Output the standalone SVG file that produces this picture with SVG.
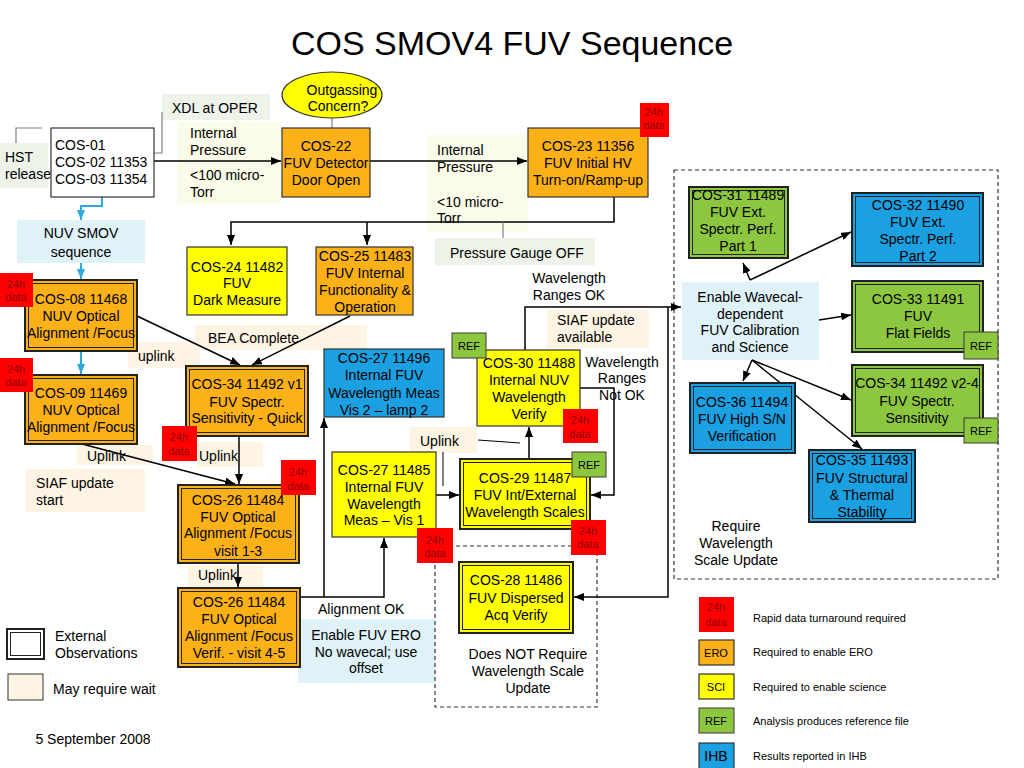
<svg xmlns="http://www.w3.org/2000/svg" width="1024" height="768" viewBox="0 0 1024 768">
<defs>
<marker id="ah" viewBox="0 0 10 8" refX="10" refY="4" markerWidth="10" markerHeight="8" markerUnits="userSpaceOnUse" orient="auto"><path d="M0,0 L10,4 L0,8 z" fill="#000"/></marker>
<marker id="ahb" viewBox="0 0 10 8" refX="10" refY="4" markerWidth="10" markerHeight="8" markerUnits="userSpaceOnUse" orient="auto"><path d="M0,0 L10,4 L0,8 z" fill="#29abe2"/></marker>
<style>
text{font-family:"Liberation Sans",Arial,Helvetica,sans-serif;font-size:14px;fill:#000}
.c{text-anchor:middle}
.title{font-size:34px}
.sm{font-size:11px}
.d{font-size:11px;fill:#8b0000;text-anchor:middle}
.ln{stroke:#000;stroke-width:1.5;fill:none}
.ar{marker-end:url(#ah)}
.gl{stroke:#808080;stroke-width:1.2;fill:none}
.bl{stroke:#29abe2;stroke-width:2;fill:none;marker-end:url(#ahb)}
.dash{stroke:#333;stroke-width:1.2;fill:none;stroke-dasharray:4,3}
.or{fill:#fbb117;stroke:#333;stroke-width:1.2}
.ye{fill:#ffff00;stroke:#333;stroke-width:1.2}
.gr{fill:#8dc63f;stroke:#333;stroke-width:1.2}
.bu{fill:#1ba1e2;stroke:#333;stroke-width:1.2}
.wh{fill:#fff;stroke:#333;stroke-width:1.2}
.out{stroke:#222;stroke-width:2}
.inn{fill:none;stroke:#222;stroke-width:1}
.red{fill:#ff0000}
.ref{fill:#8dc63f;stroke:#3a3a3a;stroke-width:1}
.bg-be{fill:#fdf4e4}
.bg-ye{fill:#fbfbe9}
.bg-gg{fill:#eef3ea}
.bg-lb{fill:#dff2f8}
</style>
</defs>
<rect width="1024" height="768" fill="#fff"/>
<text class="title c" x="512" y="55">COS SMOV4 FUV Sequence</text>

<!-- label backgrounds -->
<g id="labels">
<rect class="bg-gg" x="0" y="143" width="48" height="45"/>
<rect class="bg-gg" x="162" y="94" width="108" height="26"/>
<rect class="bg-ye" x="177" y="122" width="104" height="83"/>
<rect class="bg-ye" x="427" y="135" width="101" height="97"/>
<rect class="bg-gg" x="435" y="238" width="160" height="27"/>
<rect class="bg-lb" x="17" y="220" width="128" height="43"/>
<rect class="bg-be" x="195" y="325" width="172" height="25"/>
<rect class="bg-be" x="128" y="342" width="72" height="26"/>
<rect class="bg-be" x="77" y="445" width="76" height="20"/>
<rect class="bg-be" x="26" y="469" width="119" height="43"/>
<rect class="bg-be" x="197" y="442" width="66" height="25"/>
<rect class="bg-be" x="188" y="565" width="75" height="22"/>
<rect class="bg-lb" x="298" y="619" width="137" height="64"/>
<rect class="bg-be" x="410" y="427" width="67" height="26"/>
<rect class="bg-be" x="547" y="310" width="102" height="38"/>
<rect class="bg-lb" x="682" y="282" width="137" height="78"/>
<text x="5" y="162">HST</text><text x="5" y="179">release</text>
<text x="172" y="113">XDL at OPER</text>
<text x="190" y="138">Internal</text><text x="190" y="155">Pressure</text><text x="190" y="180">&lt;100 micro-</text><text x="190" y="197">Torr</text>
<text x="437" y="155">Internal</text><text x="437" y="172">Pressure</text><text x="437" y="207">&lt;10 micro-</text><text x="437" y="223">Torr</text>
<text x="450" y="258">Pressure Gauge OFF</text>
<text class="c" x="81" y="238">NUV SMOV</text><text class="c" x="81" y="257">sequence</text>
<text x="208" y="343">BEA Complete</text>
<text x="138" y="361">uplink</text>
<text x="87" y="461">Uplink</text>
<text x="36" y="488">SIAF update</text><text x="36" y="505">start</text>
<text x="199" y="461">Uplink</text>
<text x="198" y="580">Uplink</text>
<text x="318" y="614">Alignment OK</text>
<text class="c" x="366" y="640">Enable FUV ERO</text><text class="c" x="366" y="657">No wavecal; use</text><text class="c" x="366" y="673">offset</text>
<text x="420" y="446">Uplink</text>
<text x="557" y="325">SIAF update</text><text x="557" y="342">available</text>
<text class="c" x="569" y="283">Wavelength</text><text class="c" x="569" y="300">Ranges OK</text>
<text class="c" x="622" y="367">Wavelength</text><text class="c" x="622" y="383">Ranges</text><text class="c" x="622" y="400">Not OK</text>
<text class="c" x="750" y="302">Enable Wavecal-</text><text class="c" x="750" y="319">dependent</text><text class="c" x="750" y="335">FUV Calibration</text><text class="c" x="750" y="352">and Science</text>
<text class="c" x="736" y="531">Require</text><text class="c" x="736" y="548">Wavelength</text><text class="c" x="736" y="565">Scale Update</text>
<text class="c" x="528" y="659">Does NOT Require</text><text class="c" x="528" y="676">Wavelength Scale</text><text class="c" x="528" y="693">Update</text>
</g>

<g id="groups">
<rect class="dash" x="674" y="170" width="324" height="409"/>
<rect class="dash" x="435" y="546" width="162" height="161"/>
</g>

<g id="connectors">
<path class="ln ar" d="M154,161 H281"/>
<path class="ln ar" d="M370,161 H527"/>
<path class="ln ar" d="M614,197 V222 H231 V245"/>
<path class="ln ar" d="M367,222 V245"/>
<path class="gl" d="M332,117 V128"/>
<path class="gl" d="M16,143 V128 H42"/>
<path class="gl" d="M120,153 H162 V112"/>
<path class="gl" d="M503,222 V238"/>
<path class="bl" d="M102,197 V206 H81 V220"/>
<path class="bl" d="M81,263 V279"/>
<path class="bl" d="M81,351 V374"/>
<path class="ln ar" d="M137,316 L240,365"/>
<path class="ln ar" d="M350,316 L252,365"/>
<path class="ln ar" d="M82,444 L235,484"/>
<path class="ln ar" d="M239,436 V484"/>
<path class="ln ar" d="M238,563 V587"/>
<path class="ln ar" d="M300,597 H384 V538"/>
<path class="ln ar" d="M324,597 V418"/>
<path class="ln ar" d="M436,495 H459"/>
<path class="ln ar" d="M529,459 V427"/>
<path class="ln ar" d="M525,350 V307 H681"/>
<path class="ln ar" d="M668,307 V597 H574"/>
<path class="ln ar" d="M580,388 H614 V495 H591"/>
<path class="ln" style="stroke-width:1" d="M478,440 L520,443 M443,452 V486"/>
<path class="ln ar" d="M750,280 L743,263"/>
<path class="ln ar" d="M750,280 L851,232"/>
<path class="ln ar" d="M819,320 L851,315"/>
<path class="ln ar" d="M752,360 L743,381"/>
<path class="ln ar" d="M752,360 L851,400"/>
<path class="ln ar" d="M752,360 L862,449"/>
</g>

<g id="outgassing"><ellipse cx="332" cy="95" rx="50" ry="23" class="ye"/><text class="c" x="342" y="95">Outgassing</text><text class="c" x="338" y="111">Concern?</text></g>
<g id="cos01"><rect class="wh" x="51" y="128" width="103" height="69"/><text x="55" y="150">COS-01</text><text x="55" y="167">COS-02 11353</text><text x="55" y="184">COS-03 11354</text></g>
<g id="cos22"><rect class="or" x="282" y="128" width="88" height="69"/><text class="c" x="326" y="151">COS-22</text><text class="c" x="326" y="168">FUV Detector</text><text class="c" x="326" y="185">Door Open</text></g>
<g id="cos23"><rect class="or" x="528" y="128" width="120" height="69"/><text class="c" x="588" y="151">COS-23 11356</text><text class="c" x="588" y="168">FUV Initial HV</text><text class="c" x="588" y="185">Turn-on/Ramp-up</text>
<rect class="red" x="640" y="103" width="29" height="34"/><text class="d" x="654" y="116">24h</text><text class="d" x="654" y="129">data</text></g>
<g id="cos24"><rect class="ye" x="187" y="247" width="100" height="68"/><text class="c" x="237" y="272">COS-24 11482</text><text class="c" x="237" y="288">FUV</text><text class="c" x="237" y="305">Dark Measure</text></g>
<g id="cos25"><rect class="or" x="316" y="247" width="97" height="68"/><text class="c" x="365" y="261">COS-25 11483</text><text class="c" x="365" y="278">FUV Internal</text><text class="c" x="365" y="295">Functionality &amp;</text><text class="c" x="365" y="312">Operation</text></g>

<g id="cos08"><rect class="or out" x="25" y="280" width="112" height="71"/><rect class="inn" x="28.5" y="283.5" width="105" height="64"/><text class="c" x="81" y="304">COS-08 11468</text><text class="c" x="81" y="321">NUV Optical</text><text class="c" x="81" y="338">Alignment /Focus</text>
<rect class="red" x="0" y="273" width="33" height="34"/><text class="d" x="16" y="288">24h</text><text class="d" x="16" y="301">data</text></g>
<g id="cos09"><rect class="or out" x="25" y="375" width="112" height="69"/><rect class="inn" x="28.5" y="378.5" width="105" height="62"/><text class="c" x="81" y="398">COS-09 11469</text><text class="c" x="81" y="415">NUV Optical</text><text class="c" x="81" y="432">Alignment /Focus</text>
<rect class="red" x="0" y="358" width="33" height="34"/><text class="d" x="16" y="373">24h</text><text class="d" x="16" y="386">data</text></g>
<g id="cos34v1"><rect class="or out" x="186" y="366" width="122" height="70"/><rect class="inn" x="189.5" y="369.5" width="115" height="63"/><text class="c" x="247" y="389">COS-34 11492 v1</text><text class="c" x="247" y="407">FUV  Spectr.</text><text class="c" x="247" y="423">Sensitivity - Quick</text>
<rect class="red" x="162" y="426" width="35" height="35"/><text class="d" x="179" y="441">24h</text><text class="d" x="179" y="455">data</text></g>
<g id="cos26a"><rect class="or out" x="178" y="485" width="121" height="78"/><rect class="inn" x="181.5" y="488.5" width="114" height="71"/><text class="c" x="238" y="505">COS-26 11484</text><text class="c" x="238" y="522">FUV Optical</text><text class="c" x="238" y="538">Alignment /Focus</text><text class="c" x="238" y="556">visit 1-3</text>
<rect class="red" x="281" y="460" width="35" height="35"/><text class="d" x="298" y="476">24h</text><text class="d" x="298" y="490">data</text></g>
<g id="cos26b"><rect class="or out" x="178" y="588" width="122" height="79"/><rect class="inn" x="181.5" y="591.5" width="115" height="72"/><text class="c" x="239" y="607">COS-26 11484</text><text class="c" x="239" y="624">FUV Optical</text><text class="c" x="239" y="641">Alignment /Focus</text><text class="c" x="239" y="658">Verif. - visit 4-5</text></g>

<g id="cos27b"><rect class="bu" x="324" y="349" width="120" height="68"/><text class="c" x="384" y="363">COS-27 11496</text><text class="c" x="384" y="380">Internal FUV</text><text class="c" x="384" y="398">Wavelength Meas</text><text class="c" x="384" y="415">Vis 2 – lamp 2</text></g>
<g id="cos27a"><rect class="ye" x="332" y="452" width="104" height="85"/><text class="c" x="384" y="475">COS-27 11485</text><text class="c" x="384" y="492">Internal FUV</text><text class="c" x="384" y="509">Wavelength</text><text class="c" x="384" y="525">Meas – Vis 1</text>
<rect class="red" x="417" y="528" width="36" height="35"/><text class="d" x="435" y="544">24h</text><text class="d" x="435" y="557">data</text></g>
<g id="cos30"><rect class="ye" x="477" y="350" width="103" height="76"/><text class="c" x="529" y="368">COS-30 11488</text><text class="c" x="529" y="385">Internal NUV</text><text class="c" x="529" y="402">Wavelength</text><text class="c" x="529" y="419">Verify</text>
<rect class="ref" x="452" y="333" width="34" height="25"/><text class="sm c" x="469" y="350">REF</text>
<rect class="red" x="563" y="409" width="35" height="34"/><text class="d" x="580" y="424">24h</text><text class="d" x="580" y="438">data</text></g>
<g id="cos29"><rect class="ye out" x="460" y="459" width="130" height="70"/><rect class="inn" x="463.5" y="462.5" width="123" height="63"/><text class="c" x="525" y="483">COS-29 11487</text><text class="c" x="525" y="500">FUV Int/External</text><text class="c" x="525" y="517">Wavelength Scales</text>
<rect class="ref" x="572" y="452" width="34" height="25"/><text class="sm c" x="589" y="469">REF</text>
<rect class="red" x="571" y="520" width="35" height="35"/><text class="d" x="588" y="535">24h</text><text class="d" x="588" y="548">data</text></g>
<g id="cos28"><rect class="ye out" x="459" y="562" width="114" height="71"/><rect class="inn" x="462.5" y="565.5" width="107" height="64"/><text class="c" x="516" y="585">COS-28 11486</text><text class="c" x="516" y="603">FUV Dispersed</text><text class="c" x="516" y="620">Acq Verify</text></g>

<g id="cos31"><rect class="gr out" x="689" y="187" width="99" height="71"/><rect class="inn" x="692.5" y="190.5" width="92" height="64"/><text class="c" x="738" y="200">COS-31 11489</text><text class="c" x="738" y="217">FUV Ext.</text><text class="c" x="738" y="234">Spectr. Perf.</text><text class="c" x="738" y="251">Part 1</text></g>
<g id="cos32"><rect class="bu out" x="852" y="193" width="131" height="73"/><rect class="inn" x="855.5" y="196.5" width="124" height="66"/><text class="c" x="918" y="210">COS-32 11490</text><text class="c" x="918" y="227">FUV Ext.</text><text class="c" x="918" y="244">Spectr. Perf.</text><text class="c" x="918" y="261">Part 2</text></g>
<g id="cos33"><rect class="gr out" x="852" y="281" width="131" height="71"/><rect class="inn" x="855.5" y="284.5" width="124" height="64"/><text class="c" x="918" y="304">COS-33 11491</text><text class="c" x="918" y="321">FUV</text><text class="c" x="918" y="338">Flat Fields</text>
<rect class="ref" x="964" y="332" width="34" height="27"/><text class="sm c" x="981" y="350">REF</text></g>
<g id="cos34v2"><rect class="gr out" x="852" y="365" width="131" height="71"/><rect class="inn" x="855.5" y="368.5" width="124" height="64"/><text class="c" x="917" y="388">COS-34 11492 v2-4</text><text class="c" x="917" y="406">FUV  Spectr.</text><text class="c" x="917" y="423">Sensitivity</text>
<rect class="ref" x="964" y="418" width="34" height="25"/><text class="sm c" x="981" y="435">REF</text></g>
<g id="cos36"><rect class="bu out" x="690" y="383" width="105" height="70"/><rect class="inn" x="693.5" y="386.5" width="98" height="63"/><text class="c" x="742" y="407">COS-36 11494</text><text class="c" x="742" y="424">FUV  High S/N</text><text class="c" x="742" y="441">Verification</text></g>
<g id="cos35"><rect class="bu out" x="809" y="450" width="106" height="72"/><rect class="inn" x="812.5" y="453.5" width="99" height="65"/><text class="c" x="862" y="465">COS-35 11493</text><text class="c" x="862" y="483">FUV  Structural</text><text class="c" x="862" y="500">&amp; Thermal</text><text class="c" x="862" y="517">Stability</text></g>

<g id="legend">
<rect class="red" x="699" y="597" width="35" height="35"/><text class="d" x="716" y="611">24h</text><text class="d" x="716" y="626">data</text>
<text class="sm" x="753" y="622">Rapid data turnaround required</text>
<rect class="or" x="699" y="640" width="35" height="25"/><text class="sm c" x="716" y="657">ERO</text>
<text class="sm" x="753" y="656">Required to enable ERO</text>
<rect class="ye" x="699" y="674" width="35" height="25"/><text class="sm c" x="716" y="691">SCI</text>
<text class="sm" x="753" y="691">Required to enable science</text>
<rect class="ref" x="699" y="708" width="35" height="25"/><text class="sm c" x="716" y="725">REF</text>
<text class="sm" x="753" y="725">Analysis produces reference file</text>
<rect class="bu" x="699" y="743" width="35" height="30"/><text class="c" x="716" y="761">IHB</text>
<text class="sm" x="753" y="760">Results reported in IHB</text>
<rect class="wh out" x="7" y="629" width="37" height="30"/><rect class="inn" x="10.5" y="632.5" width="30" height="23"/>
<text x="55" y="641">External</text><text x="55" y="658">Observations</text>
<rect x="8" y="674" width="35" height="26" fill="#fdf4e4" stroke="#333" stroke-width="1"/>
<text x="53" y="694">May require wait</text>
<text class="c" x="93" y="744">5 September 2008</text>
</g>
</svg>
